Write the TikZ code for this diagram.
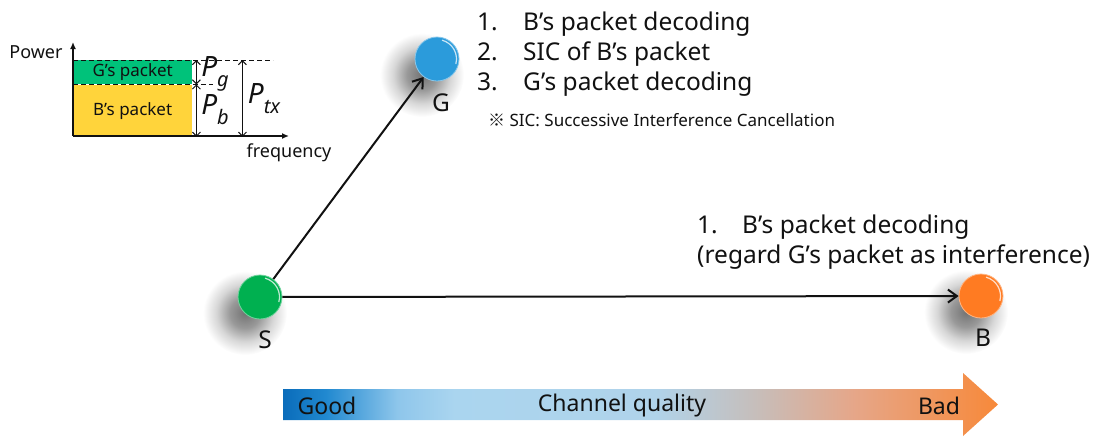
\documentclass[tikz,border=0pt]{standalone}
\usepackage{fontspec}
\setmainfont{Noto Sans}
\newfontfamily\markfont{Noto Sans CJK SC}
\usetikzlibrary{arrows.meta,positioning}
\definecolor{ink}{HTML}{111111}
\definecolor{gball}{HTML}{00B050}
\definecolor{bball}{HTML}{2B9BDB}
\definecolor{oball}{HTML}{FF7B22}
\definecolor{gpkt}{HTML}{00C27A}
\definecolor{ypkt}{HTML}{FFD43B}
\definecolor{q1}{HTML}{0A6CBA}
\definecolor{q2}{HTML}{2189D0}
\definecolor{q3}{HTML}{8EC6EB}
\definecolor{q4}{HTML}{AAD5EF}
\definecolor{q5}{HTML}{B0D3EA}
\definecolor{q6}{HTML}{C6BEBB}
\definecolor{q7}{HTML}{E6A688}
\definecolor{q8}{HTML}{F7893A}
% colour bar under the links, good -> bad (path spans 25bp..75bp)
\pgfdeclarehorizontalshading{quality}{100bp}{color(0bp)=(q1); color(25bp)=(q1); color(28bp)=(q2); color(33bp)=(q3);
  color(37bp)=(q4); color(51bp)=(q5); color(58bp)=(q6); color(65bp)=(q7); color(75bp)=(q8); color(100bp)=(q8)}
% soft drop shadow of the balls (edge of the circle at 25bp)
\pgfdeclareradialshading{halo}{\pgfpoint{0bp}{0bp}}{color(0bp)=(black!55); color(9bp)=(black!40); color(17bp)=(black!16); color(25bp)=(white); color(50bp)=(white)}
\newcommand{\bigtxt}{\fontsize{24.5}{30}\selectfont}
\newcommand{\notetxt}{\fontsize{17}{20}\selectfont}
\newcommand{\axtxt}{\fontsize{18}{20}\selectfont}
\newcommand{\pkttxt}{\fontsize{17}{18}\selectfont}
\newcommand{\pwr}[1]{P\raisebox{-.36em}{\fontsize{20}{20}\selectfont #1}}
\tikzset{
  ball/.style={circle,minimum size=44pt,inner sep=0pt,fill=#1,draw=#1!55!white,line width=.8pt},
  tag/.style={font=\bigtxt,text=ink,inner sep=0pt},
  steps/.style={font=\bigtxt,text=ink,align=left,inner sep=0pt,anchor=north west},
  pkt/.style={minimum width=119pt,inner sep=0pt,font=\pkttxt,text=ink},
  pw/.style={font=\fontsize{28}{28}\selectfont\itshape,text=ink,inner sep=0pt},
  axis/.style={-{Latex[length=7pt,width=6pt]},draw=ink,line width=1.6pt},
  dim/.style={{Straight Barb[length=4pt,width=8pt]}-{Straight Barb[length=4pt,width=8pt]},draw=ink,line width=1pt},
  guide/.style={draw=ink,line width=.8pt,dash pattern=on 5pt off 3pt},
  ar/.style={-{Straight Barb[length=9pt,width=13pt]},draw=ink,line width=2pt},
}

\begin{document}
\begin{tikzpicture}[x=1pt,y=-1pt]
  \useasboundingbox (0,0) rectangle (1094,437);

  % power allocation of the superposed packets
  \coordinate (o) at (73,136);
  \node[pkt,fill=gpkt,minimum height=24pt,anchor=north west] (gp) at (73,60) {G’s packet};
  \node[pkt,fill=ypkt,minimum height=52pt,below=0pt of gp] (bp) {B’s packet};
  \draw[guide] (gp.north west) -- ++(200,0);
  \draw[guide] (gp.south west) -- ++(140,0);
  \draw[axis] (o) -- ++(0,-94);
  \draw[axis] (o) -- ++(216,0);
  \node[font=\axtxt,text=ink] (pwlab) at (36,52) {Power};
  \node[font=\axtxt,text=ink] (fqlab) at (289,153) {frequency};
  \draw[dim] ([xshift=4pt]gp.north east) -- ([xshift=4pt]gp.south east);
  \draw[dim] ([xshift=4pt]bp.north east) -- ([xshift=4pt]bp.south east);
  \draw[dim] ([xshift=50pt]gp.north east) -- ([xshift=50pt]bp.south east);
  \node[pw] (pg) at (215,74) {\pwr{g}};
  \node[pw] (pb) at (215,110) {\pwr{b}};
  \node[pw] (ptx) at (264,99) {\pwr{tx}};

  % shadows first, then the three terminals
  \shade[shading=halo] (245,313) circle (42);
  \shade[shading=halo] (422,75) circle (42);
  \shade[shading=halo] (966,312) circle (42);
  \node[ball=gball] (S) at (260,297) {};
  \node[ball=bball] (G) at (437,59) {};
  \node[ball=oball] (B) at (981,296) {};
  \foreach \n in {S,G,B}
    \draw[white,opacity=.75,line width=1.2pt] (\n) ++(-75:19.5) arc[start angle=-75,end angle=15,radius=19.5];
  \node[tag] (Slab) at (265,340) {S};
  \node[tag] (Glab) at (441,103) {G};
  \node[tag] (Blab) at (983,338) {B};

  \draw[ar] (S) -- (G);
  \draw[ar] (S) -- (B);

  % decoding order at each receiver
  \node[steps] (gsteps) at (477,12)
    {\makebox[46pt][l]{1.}B’s packet decoding\\
     \makebox[46pt][l]{2.}SIC of B’s packet\\
     \makebox[46pt][l]{3.}G’s packet decoding};
  \node[font=\notetxt,text=ink,anchor=west,inner sep=0pt] (note) at (488,120)
    {{\markfont ※} SIC: Successive Interference Cancellation};
  \node[steps] (bsteps) at (697,215)
    {\makebox[45pt][l]{1.}B’s packet decoding\\
     (regard G’s packet as interference)};

  % channel quality bar
  \shade[shading=quality] (283,389) -- (963,389) -- (963,373) -- (998,404.5) -- (963,436) -- (963,420) -- (283,420) -- cycle;
  \node[font=\fontsize{23}{23}\selectfont,text=ink] (good) at (327,406) {Good};
  \node[font=\fontsize{23}{23}\selectfont,text=ink] (cq) at (622,406) {Channel quality};
  \node[font=\fontsize{23}{23}\selectfont,text=ink] (bad) at (939,406) {Bad};
\end{tikzpicture}
\end{document}
